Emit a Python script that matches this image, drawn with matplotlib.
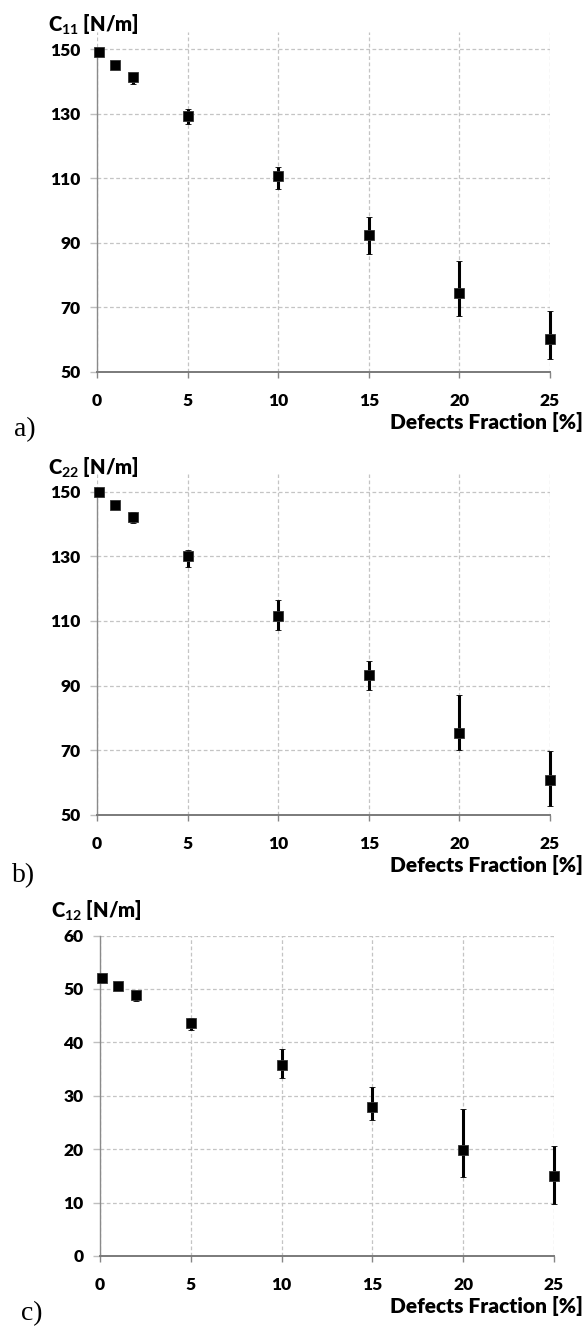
"""
Elastic constants of the defected sheet vs. defects fraction (three panels)
"""
import matplotlib
matplotlib.use('Agg')
import matplotlib.pyplot as plt
import numpy as np

# Defects fraction [%]
defects = [0.1, 1, 2, 5, 10, 15, 20, 25]

# C11 [N/m]: mean, upper and lower end of the error bar
c11 = [149.2, 145.2, 141.5, 129.4, 110.7, 92.6, 74.6, 60.3]
c11_hi = [149.7, 146.0, 142.7, 131.4, 113.5, 98.1, 84.3, 69.0]
c11_lo = [148.7, 144.4, 139.4, 127.0, 106.6, 86.5, 67.5, 53.9]

# C22 [N/m]
c22 = [150.0, 146.0, 142.3, 130.1, 111.5, 93.4, 75.4, 60.6]
c22_hi = [150.5, 147.1, 143.7, 131.9, 116.5, 97.6, 87.0, 69.8]
c22_lo = [149.5, 144.9, 140.2, 126.7, 107.2, 88.7, 70.0, 52.7]

# C12 [N/m]
c12 = [52.1, 50.5, 48.9, 43.7, 35.7, 27.9, 19.9, 14.9]
c12_hi = [52.5, 50.8, 49.5, 44.6, 38.8, 31.6, 27.5, 20.6]
c12_lo = [51.7, 50.2, 47.7, 42.4, 33.4, 25.4, 14.8, 9.8]

x_ticks = [0, 5, 10, 15, 20, 25]
y_ticks_ab = [50, 70, 90, 110, 130, 150]
y_ticks_c = [0, 10, 20, 30, 40, 50, 60]

H = 1328.0
W = 586.0

plt.rcParams['font.family'] = ['Lato', 'DejaVu Sans']
plt.rcParams['mathtext.fontset'] = 'custom'
plt.rcParams['mathtext.rm'] = 'Lato:bold'
plt.rcParams['mathtext.it'] = 'Lato:bold'
plt.rcParams['mathtext.bf'] = 'Lato:bold'


def panel(fig, rect, y, hi, lo, yticks, ylim, ylabel, label_y, letter, letter_pos):
	ax = fig.add_axes(rect)
	y = np.array(y)
	err = [y - np.array(lo), np.array(hi) - y]
	ax.errorbar(defects, y, yerr=err, fmt='s', color='black', ms=7,
		mec='#333333', mew=0.6, elinewidth=2.2, capsize=2.0, capthick=1.8,
		clip_on=False, zorder=5)
	ax.set_xlim(0, 25)
	ax.set_ylim(*ylim)
	ax.set_xticks(x_ticks)
	ax.set_yticks(yticks)
	ax.tick_params(axis='x', direction='out', length=4, width=1, color='#868686',
		pad=11, labelsize=12.5)
	ax.tick_params(axis='y', direction='out', length=5, width=1, color='#bfbfbf',
		pad=7, labelsize=12.5)
	for lab in ax.get_xticklabels() + ax.get_yticklabels():
		lab.set_fontweight('heavy')
	# dashed Excel-like gridlines
	ax.grid(True, color='#c4c4c4', linestyle=(0, (3, 2)), linewidth=0.9)
	ax.set_axisbelow(True)
	for s in ['top', 'right']:
		ax.spines[s].set_visible(False)
	ax.spines['left'].set_color('#8a8a8a')
	ax.spines['left'].set_linewidth(1.0)
	ax.spines['left'].set_bounds(yticks[0], yticks[-1])
	ax.spines['bottom'].set_color('#7a7a7a')
	ax.spines['bottom'].set_linewidth(1.4)
	ax.spines['bottom'].set_zorder(6)

	# axis titles
	left = rect[0]
	fig.text(left - 49 / W, 1 - label_y / H, ylabel, fontsize=14.5, fontweight='heavy',
		ha='left', va='center')
	fig.text(583 / W, rect[1] - 50 / H, 'Defects Fraction [%]', fontsize=15,
		fontweight='heavy', ha='right', va='center')
	fig.text(letter_pos[0] / W, 1 - letter_pos[1] / H, letter,
		family='Liberation Serif', fontsize=20, ha='left', va='center')
	return ax


def main():
	fig = plt.figure(figsize=(W / 100, H / 100), dpi=100)

	# C11
	panel(fig, [97 / W, (H - 372) / H, 453 / W, 339.7 / H], c11, c11_hi, c11_lo,
		y_ticks_ab, (50, 155.3), r'C$_{11}$ [N/m]', 25, 'a)', (14, 430))
	# C22
	panel(fig, [97 / W, (H - 814.7) / H, 453 / W, 340.4 / H], c22, c22_hi, c22_lo,
		y_ticks_ab, (50, 155.4), r'C$_{22}$ [N/m]', 468, 'b)', (12, 876))
	# C12
	panel(fig, [100 / W, (H - 1256) / H, 454 / W, 320.5 / H], c12, c12_hi, c12_lo,
		y_ticks_c, (0, 60), r'C$_{12}$ [N/m]', 911, 'c)', (21, 1314))

	fig.savefig('out.png', dpi=100)


if __name__ == '__main__':
	main()
